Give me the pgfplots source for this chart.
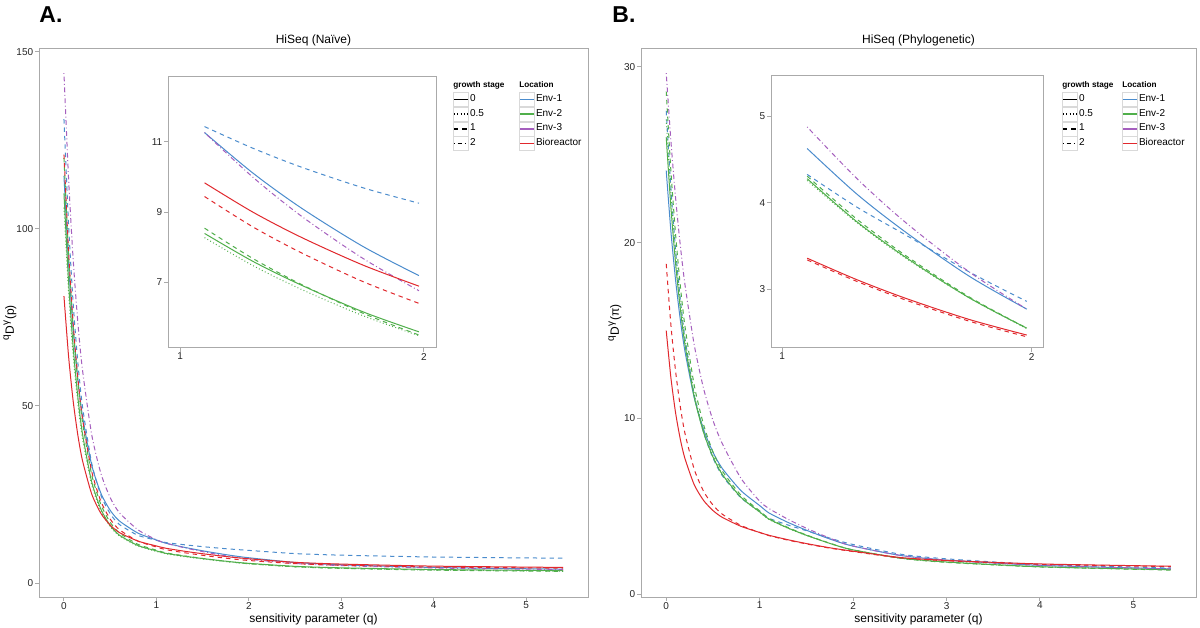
\documentclass[border=0pt]{standalone}
\usepackage{fontspec}
\setmainfont{Liberation Sans}
\usepackage{pgfplots}
\usepackage{pgfplotstable}
\pgfplotsset{compat=1.18}

\definecolor{cEnvA}{RGB}{75,140,205}
\definecolor{cEnvB}{RGB}{80,175,75}
\definecolor{cEnvC}{RGB}{165,95,190}
\definecolor{cBio}{RGB}{225,40,45}
\definecolor{frame}{RGB}{170,170,170}

% columns: Env-1 stage0, Env-1 stage1, Env-2 stage0, Env-2 stage0.5, Env-2 stage1, Env-3 stage2, Bioreactor stage0, Bioreactor stage1
\pgfplotstableread{
q    ea0    ea1    eb0   eb05   eb1    ec2    br0   br1
0    115    131    110   106    120    144    81    121
0.05 90.13  101.10 85.06 82.05  92.62  114.14 64.02 93.59
0.1  71.55  78.85  66.47 64.21  72.22  91.22  51.31 73.18
0.15 57.66  62.33  52.62 50.91  57.02  73.66  41.81 57.96
0.2  47.17  49.93  42.20 40.90  45.58  60.27  34.63 46.51
0.3  33.33  33.81  28.56 27.79  30.63  41.92  25.15 31.54
0.4  25.33  24.78  20.82 20.33  22.13  30.91  19.65 23.04
0.5  20.54  19.58  16.28 15.96  17.16  24.13  16.35 18.06
0.6  17.52  16.53  13.52 13.29  14.14  19.84  14.25 15.05
0.8  14.10  13.48  10.60 10.43  10.94  15.04  11.85 11.84
1.0  12.14  12.07  9.08  8.94   9.28   12.20  10.46 10.18
1.1  11.26  11.43  8.39  8.27   8.54   11.26  9.83  9.44
1.3  10.10  10.81  7.59  7.47   7.67   9.98   8.99  8.57
1.5  9.10   10.27  6.91  6.79   6.93   8.87   8.27  7.83
1.75 8.02   9.69   6.16  6.05   6.12   7.68   7.49  7.02
1.98 7.19   9.25   5.59  5.48   5.50   6.76   6.89  6.40
2.5  5.81   8.31   4.71  4.59   4.58   5.52   5.84  5.48
3    5.15   7.86   4.29  4.16   4.14   4.92   5.35  5.04
4    4.39   7.34   3.81  3.67   3.63   4.24   4.77  4.53
5.4  3.90   7.00   3.50  3.35   3.30   3.80   4.40  4.20
}\tblA

\pgfplotstableread{
q    ea0    ea1    eb0   eb05   eb1    ec2    br0   br1
0    24.1   27.5   26.0  27.0   28.6   29.65  15.0  18.8
0.05 20.65  23.11  22.02 22.80  24.08  25.79  12.32 15.32
0.1  17.88  19.61  18.83 19.44  20.48  22.56  10.33 12.70
0.15 15.65  16.82  16.28 16.75  17.59  19.88  8.84  10.70
0.2  13.84  14.59  14.22 14.58  15.27  17.64  7.73  9.17
0.3  11.18  11.33  11.22 11.42  11.88  14.18  6.23  7.11
0.4  9.37   9.20   9.20  9.33   9.65   11.70  5.34  5.86
0.5  8.09   7.76   7.82  7.88   8.11   9.90   4.77  5.08
0.6  7.16   6.75   6.82  6.85   7.02   8.57   4.38  4.56
0.8  5.90   5.49   5.52  5.53   5.64   6.60   3.87  3.92
1.0  5.05   4.72   4.69  4.68   4.75   5.30   3.52  3.52
1.1  4.63   4.33   4.28  4.26   4.31   4.88   3.36  3.34
1.3  4.10   3.95   3.78  3.77   3.81   4.28   3.11  3.09
1.5  3.65   3.62   3.36  3.35   3.38   3.76   2.89  2.87
1.75 3.15   3.20   2.90  2.90   2.91   3.20   2.65  2.63
1.98 2.77   2.86   2.55  2.545  2.55   2.77   2.47  2.45
2.5  2.22   2.29   2.07  2.06   2.06   2.22   2.10  2.08
3    1.95   2.02   1.84  1.84   1.82   1.95   1.93  1.91
4    1.65   1.70   1.57  1.57   1.56   1.65   1.73  1.71
5.4  1.45   1.50   1.40  1.40   1.38   1.45   1.60  1.58
}\tblB

\pgfplotsset{
  st0/.style={solid},
  st05/.style={dash pattern=on 0.45pt off 1.2pt},
  st1/.style={dash pattern=on 2.2pt off 2pt},
  st2/.style={dash pattern=on 0.45pt off 1.3pt on 2.4pt off 1.3pt},
  ggaxis/.style={
    scale only axis, anchor=south west,
    axis line style={frame, line width=0.5pt},
    tick style={frame, line width=0.5pt},
    major tick length=2pt, tick align=outside,
    xtick pos=left, ytick pos=left,
    tick label style={font=\fontsize{5}{6}\selectfont, text=black!85},
    xticklabel style={yshift=3pt},
    yticklabel style={xshift=2.6pt},
    /pgf/number format/assume math mode=true,
    /pgf/number format/1000 sep={},
    axis background/.style={fill=white},
    every axis title shift=0pt,
    every axis plot/.append style={line width=0.5pt, no markers},
  },
  legaxis/.style={
    hide axis, scale only axis, width=2pt, height=2pt, anchor=north west,
    xmin=0, xmax=1, ymin=0, ymax=1,
    legend cell align=left,
    legend style={at={(0,1)}, anchor=north west, draw=none, fill=none,
      inner sep=0pt, outer sep=0pt, row sep=0pt,
      font=\fontsize{5}{6}\selectfont,
      nodes={inner sep=0.6pt, minimum height=7pt}},
    legend image code/.code={
      \draw[draw=black!15, fill=white, line width=0.4pt, solid] (0pt,-3.5pt) rectangle (7.5pt,3.5pt);
      \draw[line width=0.7pt] (0.3pt,0pt) -- (7.2pt,0pt);},
  },
}

\newcommand{\allplots}[2]{%
  \addplot[cEnvA, st0, #2] table[x=q, y=ea0] {#1};
  \addplot[cEnvA, st1, #2] table[x=q, y=ea1] {#1};
  \addplot[cEnvB, st0, #2] table[x=q, y=eb0] {#1};
  \addplot[cEnvB, st05, #2] table[x=q, y=eb05] {#1};
  \addplot[cEnvB, st1, #2] table[x=q, y=eb1] {#1};
  \addplot[cEnvC, st2, #2] table[x=q, y=ec2] {#1};
  \addplot[cBio, st0, #2] table[x=q, y=br0] {#1};
  \addplot[cBio, st1, #2] table[x=q, y=br1] {#1};
}

\begin{document}
\begin{tikzpicture}
\path[use as bounding box] (0,0) rectangle (600pt,313.5pt);

% ---------- Panel A main ----------
\begin{axis}[ggaxis, at={(19.5pt,15pt)}, width=274.5pt, height=274pt,
  xmin=-0.27, xmax=5.67, ymin=-3.95, ymax=150.8,
  xtick={0,1,2,3,4,5}, ytick={0,50,100,150},
  title={HiSeq (Na\"ive)},
  title style={at={(axis description cs:0.5,1.0164)}, anchor=center, font=\fontsize{6}{7}\selectfont},
  xlabel={sensitivity parameter (q)},
  xlabel style={at={(axis description cs:0.5,-0.0405)}, anchor=center, font=\fontsize{6}{7}\selectfont},
  ylabel={\textsuperscript{q}D\textsuperscript{γ}(p)},
  ylabel style={at={(axis description cs:-0.0528,0.5)}, anchor=center, rotate=0, font=\fontsize{6}{7}\selectfont},
]
\allplots{\tblA}{smooth, tension=0.4}
\end{axis}

% ---------- Panel A inset ----------
\begin{axis}[ggaxis, at={(84pt,139.5pt)}, width=134pt, height=136pt,
  xmin=0.95, xmax=2.05, ymin=5.13, ymax=12.87,
  xtick={1,2}, ytick={7,9,11}]
\allplots{\tblA}{smooth, restrict x to domain=1.09:1.99}
\end{axis}

% ---------- Panel B main ----------
\begin{axis}[ggaxis, at={(320.5pt,15pt)}, width=277.5pt, height=274pt,
  xmin=-0.27, xmax=5.67, ymin=-0.15, ymax=31.02,
  xtick={0,1,2,3,4,5}, ytick={0,10,20,30},
  title={HiSeq (Phylogenetic)},
  title style={at={(axis description cs:0.5,1.0164)}, anchor=center, font=\fontsize{6}{7}\selectfont},
  xlabel={sensitivity parameter (q)},
  xlabel style={at={(axis description cs:0.5,-0.0405)}, anchor=center, font=\fontsize{6}{7}\selectfont},
  ylabel={\textsuperscript{q}D\textsuperscript{γ}(π)},
  ylabel style={at={(axis description cs:-0.0468,0.5)}, anchor=center, rotate=0, font=\fontsize{6}{7}\selectfont},
]
\allplots{\tblB}{smooth, tension=0.4}
\end{axis}

% ---------- Panel B inset ----------
\begin{axis}[ggaxis, at={(385.5pt,139.5pt)}, width=136pt, height=136pt,
  xmin=0.955, xmax=2.045, ymin=2.32, ymax=5.47,
  xtick={1,2}, ytick={3,4,5}]
\allplots{\tblB}{smooth, restrict x to domain=1.09:1.99}
\end{axis}

% ---------- Legends ----------
\foreach \gx/\lx in {226.5/259.5, 531/561} {
  \node[anchor=west, inner sep=0pt, font=\fontsize{4.1}{5}\selectfont\bfseries] at (\gx pt,271pt) {growth stage};
  \node[anchor=west, inner sep=0pt, font=\fontsize{4.1}{5}\selectfont\bfseries] at (\lx pt,271pt) {Location};
}
\begin{axis}[legaxis, at={(226.5pt,267.5pt)}]
\addlegendimage{black, st0}\addlegendentry{0}
\addlegendimage{black, st05}\addlegendentry{0.5}
\addlegendimage{black, st1}\addlegendentry{1}
\addlegendimage{black, st2}\addlegendentry{2}
\end{axis}
\begin{axis}[legaxis, at={(259.5pt,267.5pt)}]
\addlegendimage{cEnvA, st0}\addlegendentry{Env-1}
\addlegendimage{cEnvB, st0}\addlegendentry{Env-2}
\addlegendimage{cEnvC, st0}\addlegendentry{Env-3}
\addlegendimage{cBio, st0}\addlegendentry{Bioreactor}
\end{axis}
\begin{axis}[legaxis, at={(531pt,267.5pt)}]
\addlegendimage{black, st0}\addlegendentry{0}
\addlegendimage{black, st05}\addlegendentry{0.5}
\addlegendimage{black, st1}\addlegendentry{1}
\addlegendimage{black, st2}\addlegendentry{2}
\end{axis}
\begin{axis}[legaxis, at={(561pt,267.5pt)}]
\addlegendimage{cEnvA, st0}\addlegendentry{Env-1}
\addlegendimage{cEnvB, st0}\addlegendentry{Env-2}
\addlegendimage{cEnvC, st0}\addlegendentry{Env-3}
\addlegendimage{cBio, st0}\addlegendentry{Bioreactor}
\end{axis}

% ---------- Panel letters ----------
\node[anchor=west, inner sep=0pt, font=\fontsize{11.5}{13}\selectfont\bfseries] at (19.5pt,306pt) {A.};
\node[anchor=west, inner sep=0pt, font=\fontsize{11.5}{13}\selectfont\bfseries] at (306pt,306pt) {B.};
\end{tikzpicture}
\end{document}
